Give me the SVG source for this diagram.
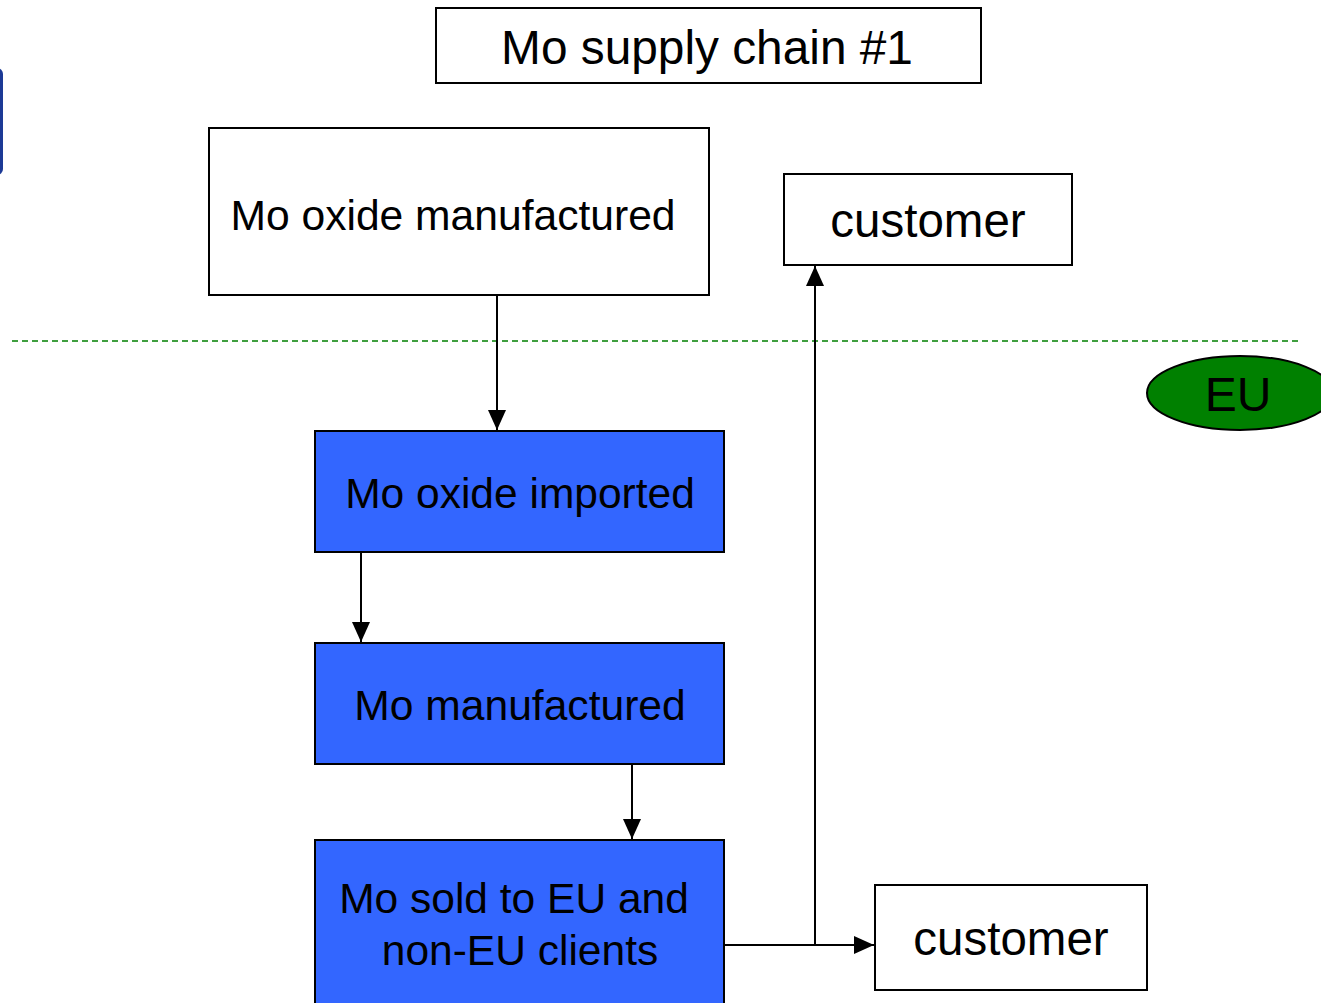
<svg xmlns="http://www.w3.org/2000/svg" width="1321" height="1003" viewBox="0 0 1321 1003">
<defs>
<marker id="arr" viewBox="0 0 20 20" refX="20" refY="10" markerWidth="20" markerHeight="20" markerUnits="userSpaceOnUse" orient="auto">
<path d="M0,1 L20,10 L0,19 Z" fill="#000"/>
</marker>
</defs>
<style>
.box{fill:#fff;stroke:#000;stroke-width:2}
.blue{fill:#3366ff;stroke:#000;stroke-width:2}
.t{font-family:"Liberation Sans",Arial,sans-serif;fill:#000;text-anchor:middle}
.edge{fill:none;stroke:#000;stroke-width:2}
</style>
<rect width="1321" height="1003" fill="#fff"/>
<rect x="-20" y="68" width="23" height="107" rx="6" fill="#1c3a96"/>
<line x1="12" y1="341" x2="1300" y2="341" stroke="#008000" stroke-width="1.6" stroke-dasharray="6,4"/>
<g id="title"><rect class="box" x="436" y="8" width="545" height="75"/><text class="t" x="707" y="64" font-size="47.8">Mo supply chain #1</text></g>
<g id="eu"><ellipse cx="1240" cy="393" rx="93" ry="37" fill="#008000" stroke="#000" stroke-width="2"/><text class="t" x="1238" y="411" font-size="48">EU</text></g>
<g id="oxideManufactured"><rect class="box" x="209" y="128" width="500" height="167"/><text class="t" x="453" y="230" font-size="42.6">Mo oxide manufactured</text></g>
<g id="customerTop"><rect class="box" x="784" y="174" width="288" height="91"/><text class="t" x="928" y="237" font-size="47.5">customer</text></g>
<g id="oxideImported"><rect class="blue" x="315" y="431" width="409" height="121"/><text class="t" x="520" y="508" font-size="42.5">Mo oxide imported</text></g>
<g id="moManufactured"><rect class="blue" x="315" y="643" width="409" height="121"/><text class="t" x="520" y="720" font-size="42.6">Mo manufactured</text></g>
<g id="moSold"><rect class="blue" x="315" y="840" width="409" height="175"/><text class="t" x="514" y="913" font-size="42.5">Mo sold to EU and</text><text class="t" x="520" y="965" font-size="42.5">non-EU clients</text></g>
<g id="customerBottom"><rect class="box" x="875" y="885" width="272" height="105"/><text class="t" x="1011" y="955" font-size="47.5">customer</text></g>
<g id="connectors">
<line class="edge" x1="497" y1="295" x2="497" y2="430" marker-end="url(#arr)"/>
<line class="edge" x1="361" y1="552" x2="361" y2="642" marker-end="url(#arr)"/>
<line class="edge" x1="632" y1="764" x2="632" y2="839" marker-end="url(#arr)"/>
<line class="edge" x1="724" y1="945" x2="874" y2="945" marker-end="url(#arr)"/>
<line class="edge" x1="815" y1="945" x2="815" y2="266" marker-end="url(#arr)"/>
</g>
</svg>
